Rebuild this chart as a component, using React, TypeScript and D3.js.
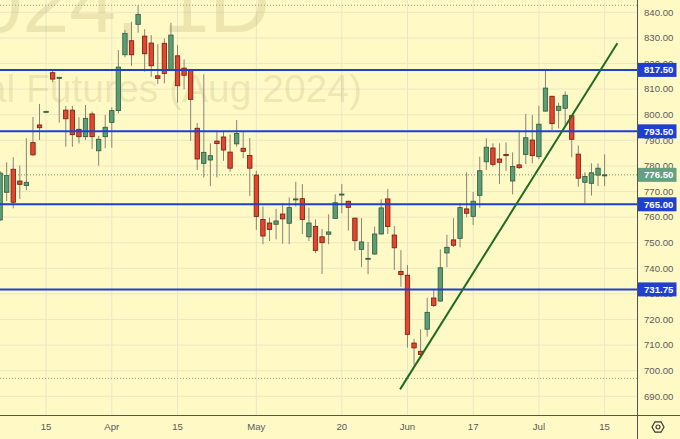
import React from "react";
import * as d3 from "d3";

const W = 680;
const H = 439;

// daily candles, oldest first (mid-March .. mid-July 2024)
const opens = [758.9,769.7,778.7,774.1,772.3,789.1,796.0,801.0,816.4,814.4,801.8,801.8,794.3,791.4,800.3,785.9,791.4,797.0,801.6,823.4,828.9,835.3,830.7,828.0,815.2,827.9,817.3,823.0,818.2,817.6,794.7,781.0,782.3,789.7,791.3,785.4,788.6,786.9,784.1,776.4,759.1,757.7,757.2,761.2,757.6,766.8,767.2,752.3,756.4,752.3,753.3,759.5,768.7,766.2,759.6,747.4,743.6,745.6,753.4,767.1,753.0,738.8,737.3,710.8,707.6,716.2,728.4,727.2,746.0,751.1,751.7,763.2,760.3,768.5,781.6,787.0,782.7,784.5,774.1,780.4,784.5,790.1,783.6,801.4,807.2,801.7,802.5,799.6,784.6,773.6,773.2,776.4,776.5];
const highs = [778.0,781.4,783.4,780.1,790.8,799.1,804.2,801.5,817.2,814.8,803.4,803.4,799.0,803.8,801.2,791.7,799.9,802.9,825.3,833.1,836.3,842.75,833.4,831.1,827.6,829.8,835.9,827.2,821.6,817.8,796.8,815.8,788.8,793.6,793.6,792.3,797.9,793.2,790.9,778.1,764.1,759.8,763.2,765.4,767.7,773.8,772.9,763.7,759.1,755.4,761.1,768.9,772.9,766.4,759.8,759.6,750.3,756.3,767.0,771.0,756.5,747.1,741.3,712.4,716.2,728.5,731.8,747.4,753.1,759.6,765.4,777.5,769.8,783.6,790.8,788.8,788.8,789.2,785.3,793.4,800.3,799.9,803.5,817.1,807.4,804.7,809.1,799.8,788.0,777.5,781.0,781.0,784.5];
const lows = [758.5,766.3,763.4,767.1,770.5,784.0,790.1,800.9,812.7,796.9,787.5,787.5,788.8,790.1,786.6,780.1,786.9,787.1,800.5,822.4,819.1,832.0,816.8,814.8,812.0,812.3,817.1,804.7,809.9,789.8,778.4,775.5,772.1,775.5,782.0,777.7,787.5,783.0,768.2,755.0,749.4,750.7,751.3,749.6,749.4,764.1,753.4,750.7,745.9,737.8,749.4,759.5,761.5,754.7,746.9,740.4,737.7,745.2,753.2,753.4,739.3,732.8,709.0,702.2,705.7,713.3,724.9,727.0,740.4,748.3,748.2,759.9,756.9,763.6,778.4,779.7,772.9,778.1,768.9,778.8,780.7,781.0,782.6,801.2,794.0,794.7,795.3,783.4,771.9,765.4,768.4,772.1,772.1];
const closes = [777.2,776.2,765.8,772.8,773.6,784.3,794.9,801.3,813.9,814.6,798.4,792.2,791.4,798.6,791.4,790.4,795.1,801.6,818.6,831.8,823.4,839.2,823.8,819.1,814.2,816.1,831.1,811.3,815.4,806.0,782.7,785.3,784.0,788.7,786.2,779.1,792.7,785.7,779.1,760.2,752.6,755.2,758.5,759.3,763.7,767.1,759.1,757.7,747.0,750.0,754.2,765.6,769.0,763.8,750.8,750.3,743.9,753.4,763.6,756.3,748.0,737.5,714.2,708.9,706.3,722.8,725.5,740.2,748.2,749.0,763.7,761.5,766.2,778.1,787.3,780.6,781.4,784.0,779.8,779.3,791.0,784.0,796.3,810.4,796.5,803.3,807.6,790.4,775.2,775.9,777.3,779.1,776.5];

// date axis
const tickIndex = [7, 17, 27, 39, 52, 62, 72, 82, 92];
const tickLabels = ["15", "Apr", "15", "May", "20", "Jun", "17", "Jul", "15"];

// price axis
const priceTicks = [840, 830, 820, 810, 800, 790, 780, 770, 760, 750, 740, 730, 720, 710, 700, 690];

// drawn horizontal levels
const levels = [817.5, 793.5, 765.0, 731.75];
const lastPrice = 776.5;
const rangeMarks = [842.75, 697.0];

// drawn trend line (bar index, price)
const trendIdx = [60.87, 93.94];
const trendPrice = [692.7, 827.9];

const PLOT_R = 637;
const PLOT_B = 415;

const BG = "#fff9c6";
const GRID = "#ece6c6";
const BLUE = "#1f40cf";
const UP = "#5c9d77";
const UP_B = "#2b5a3e";
const DN = "#e4452f";
const DN_B = "#6e1c10";
const FONT = "'Liberation Sans', Arial, sans-serif";
const AXIS_FS = 9.6;

export default function App() {
  const x = d3.scaleLinear().domain([0, 92]).range([0.1, 604.6]);
  const y = d3.scaleLinear().domain([690, 840]).range([396.3, 12.3]);
  const bodyW = 4.4;
  const trendLine = d3
    .line<number>()
    .x((_, i) => x(trendIdx[i]))
    .y((p) => y(p));

  return (
    <svg
      width={W}
      height={H}
      style={{ position: "fixed", left: 0, top: 0, display: "block" }}
      fontFamily={FONT}
    >
      <defs>
        <clipPath id="plot">
          <rect x={0} y={0} width={PLOT_R} height={PLOT_B} />
        </clipPath>
      </defs>
      <rect x={0} y={0} width={W} height={H} fill={BG} />

      <g clipPath="url(#plot)">
        {/* grid */}
        {priceTicks.map((p) => (
          <line key={"hg" + p} x1={0} x2={PLOT_R} y1={y(p)} y2={y(p)} stroke={GRID} strokeWidth={1} />
        ))}
        {tickIndex.map((t) => (
          <line key={"vg" + t} x1={x(t)} x2={x(t)} y1={0} y2={PLOT_B} stroke={GRID} strokeWidth={1} />
        ))}

        {/* watermark */}
        <text x={270} y={31.7} textAnchor="end" fontSize={84} fill="rgba(120,110,40,0.14)">
          ZMQ2024, 1D
        </text>
        <text x={362} y={101.7} textAnchor="end" fontSize={39} fill="rgba(120,110,40,0.14)">
          Soybean Meal Futures (Aug 2024)
        </text>

        {/* range marks */}
        {rangeMarks.map((p) => (
          <line key={"rm" + p} x1={0} x2={PLOT_R} y1={y(p)} y2={y(p)} stroke="#9a9a8a" strokeWidth={1} strokeDasharray="1,2" />
        ))}
        <line x1={0} x2={PLOT_R} y1={y(lastPrice)} y2={y(lastPrice)} stroke={UP} strokeWidth={1} strokeDasharray="1,2" />

        {/* candles */}
        {opens.map((o, i) => {
          const c = closes[i];
          const up = c >= o;
          const cx = x(i);
          const top = y(Math.max(o, c));
          const bot = y(Math.min(o, c));
          return (
            <g key={"c" + i}>
              <line x1={cx} x2={cx} y1={y(highs[i])} y2={y(lows[i])} stroke="#85857a" strokeWidth={1} />
              <rect
                x={cx - bodyW / 2}
                y={top}
                width={bodyW}
                height={Math.max(1, bot - top)}
                fill={up ? UP : DN}
                stroke={up ? UP_B : DN_B}
                strokeWidth={0.8}
              />
            </g>
          );
        })}

        {/* levels */}
        {levels.map((p) => (
          <line key={"lv" + p} x1={0} x2={PLOT_R} y1={y(p)} y2={y(p)} stroke={BLUE} strokeWidth={2} />
        ))}

        {/* trend line */}
        <path d={trendLine(trendPrice) || ""} stroke="#1f6b22" strokeWidth={2} fill="none" />
      </g>

      {/* axes borders */}
      <line x1={PLOT_R + 0.5} x2={PLOT_R + 0.5} y1={0} y2={H} stroke="#555" strokeWidth={1} />
      <line x1={0} x2={W} y1={PLOT_B + 0.5} y2={PLOT_B + 0.5} stroke="#555" strokeWidth={1} />

      {/* price ticks */}
      {priceTicks.map((p) => (
        <text key={"pt" + p} x={644} y={y(p)} dy="0.35em" fontSize={AXIS_FS} fill="#5a5a5a">
          {p.toFixed(2)}
        </text>
      ))}

      {/* level labels */}
      {levels.map((p) => (
        <g key={"ll" + p}>
          <rect x={PLOT_R + 1} y={y(p) - 7} width={38.5} height={14} fill={BLUE} />
          <text x={644} y={y(p)} dy="0.35em" fontSize={AXIS_FS} fill="#fff" fontWeight="bold">
            {p.toFixed(2)}
          </text>
        </g>
      ))}
      <rect x={PLOT_R + 1} y={y(lastPrice) - 7} width={38.5} height={14} fill="#62a283" />
      <text x={644} y={y(lastPrice)} dy="0.35em" fontSize={AXIS_FS} fill="#fff" fontWeight="bold">
        {lastPrice.toFixed(2)}
      </text>

      {/* date labels */}
      {tickIndex.map((t, i) => (
        <text key={"dl" + t} x={x(t)} y={427} dy="0.35em" textAnchor="middle" fontSize={AXIS_FS} fill="#5a5a5a">
          {tickLabels[i]}
        </text>
      ))}

      {/* settings icon */}
      <g transform="translate(658,427)" fill="none" stroke="#333" strokeWidth={1.2}>
        <path d={d3.range(6).map((k) => {
          const a = (Math.PI / 3) * k;
          return (k === 0 ? "M" : "L") + (6 * Math.cos(a)).toFixed(2) + "," + (6 * Math.sin(a)).toFixed(2);
        }).join("") + "Z"} />
        <circle r={2} />
      </g>
    </svg>
  );
}
